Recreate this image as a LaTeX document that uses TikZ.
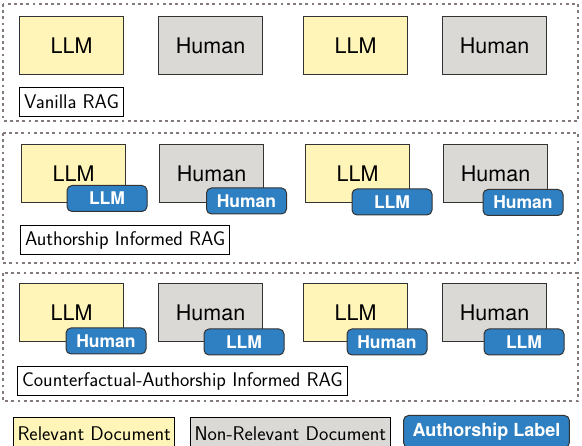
\documentclass[tikz,border=0pt]{standalone}
\usepackage{fontspec}
\usepackage{tikz}
\usetikzlibrary{positioning}
\newfontfamily\helv{TeX Gyre Heros}
\definecolor{relevante}{HTML}{FFF5B8}
\definecolor{norelevante}{HTML}{DAD9D5}
\definecolor{etiqueta}{HTML}{2F80C2}
\definecolor{marco}{HTML}{857A7A}
\definecolor{borde}{HTML}{333333}

\begin{document}
\begin{tikzpicture}[
  x=1pt, y=-1pt,
  doc/.style={draw=borde, line width=1.2pt, minimum width=104pt, minimum height=58pt,
    inner sep=0pt, anchor=north west, font=\helv\fontsize{21.5}{24}\selectfont},
  rel/.style={doc, fill=relevante},
  nonrel/.style={doc, fill=norelevante},
  badge/.style={draw=borde, line width=1pt, fill=etiqueta, rounded corners=5pt,
    minimum width=80pt, minimum height=26pt, inner sep=0pt, text=white,
    font=\helv\bfseries\fontsize{17.5}{20}\selectfont},
  ragname/.style={draw=black, line width=1pt, fill=white, anchor=north west,
    minimum height=29pt, inner xsep=4.5pt, inner ysep=0pt,
    font=\sffamily\fontsize{19.8}{22}\selectfont},
  panel/.style={draw=marco, line width=2.8pt, dash pattern=on 2.8pt off 3.4pt},
  legend/.style={draw=black, line width=1pt, anchor=north west, minimum height=32pt,
    inner xsep=4pt, inner ysep=0pt, font=\sffamily\fontsize{19.8}{22}\selectfont}
]
\useasboundingbox (0,0) rectangle (582,446);

% marcos de los tres esquemas
\draw[panel] (3,4) rectangle (578,121);
\draw[panel] (3,133) rectangle (578,263);
\draw[panel] (3,273) rectangle (578,401);

% Vanilla RAG
\node[rel]    (v1) at (19,16)  {LLM};
\node[nonrel] (v2) at (158,16) {Human};
\node[rel]    (v3) at (303,16) {LLM};
\node[nonrel] (v4) at (442,16) {Human};
\node[ragname] (vname) at (19,87) {Vanilla RAG};

% Authorship Informed RAG
\node[rel]    (a1) at (21,144)  {LLM};
\node[nonrel] (a2) at (159,144) {Human};
\node[rel]    (a3) at (305,144) {LLM};
\node[nonrel] (a4) at (443,144) {Human};
\node[badge] (a1l) at (107,198.5) {LLM};
\node[badge] (a2l) at (246.5,201) {Human};
\node[badge] (a3l) at (392,202)   {LLM};
\node[badge] (a4l) at (523,202.5) {Human};
\node[ragname] (aname) at (20,225) {Authorship Informed RAG};

% Counterfactual-Authorship Informed RAG
\node[rel]    (c1) at (19,283)  {LLM};
\node[nonrel] (c2) at (158,283) {Human};
\node[rel]    (c3) at (303,283) {LLM};
\node[nonrel] (c4) at (442,283) {Human};
\node[badge] (c1l) at (106,341) {Human};
\node[badge] (c2l) at (244,342) {LLM};
\node[badge] (c3l) at (387,342) {Human};
\node[badge] (c4l) at (524,342) {LLM};
\node[ragname] (cname) at (17,366) {Counterfactual-Authorship Informed RAG};

% leyenda
\node[legend, fill=relevante]   (lrel) at (13,417)  {Relevant Document};
\node[legend, fill=norelevante] (lnon) at (190,417) {Non-Relevant Document};
\node[badge, anchor=north west, minimum height=32pt, inner xsep=9pt,
  font=\helv\bfseries\fontsize{18}{20}\selectfont] (llab) at (403,415) {Authorship Label};

\end{tikzpicture}
\end{document}
